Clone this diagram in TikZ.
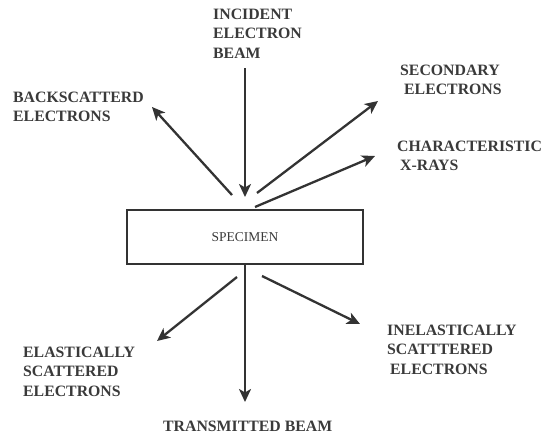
\documentclass[tikz,border=0pt]{standalone}
\usepackage{fontspec}
\setmainfont{Liberation Serif}
\usetikzlibrary{arrows.meta}
\definecolor{ink}{HTML}{333333}
\definecolor{txt}{HTML}{3A3A3A}
\tikzset{
  lbl/.style={anchor=north west, inner sep=0pt, align=left, text=txt,
    font=\fontsize{15.8}{19.3}\selectfont\bfseries},
  ray/.style={draw=ink, line width=2.3pt,
    -{Stealth[length=13pt,width=12pt,inset=3.5pt]}},
  specbox/.style={draw=ink, line width=1.1pt, minimum width=236pt,
    minimum height=54pt, inner sep=0pt, text=txt,
    font=\fontsize{13.5}{16}\selectfont}
}
\begin{document}
\begin{tikzpicture}[x=1pt,y=-1pt]
\useasboundingbox (0,0) rectangle (552,439);
% specimen
\node[specbox] (spec) at (245,237) {SPECIMEN};
% labels
\node[lbl] (inc) at (213,9) {INCIDENT\\ELECTRON\\BEAM};
\node[lbl] (bse) at (13,92) {BACKSCATTERD\\ELECTRONS};
\node[lbl] (sec) at (400,65) {SECONDARY\\\hspace*{4pt}ELECTRONS};
\node[lbl] (xr) at (397,141) {CHARACTERISTIC\\\hspace*{3pt}X-RAYS};
\node[lbl] (ela) at (23,347) {ELASTICALLY\\SCATTERED\\ELECTRONS};
\node[lbl] (tra) at (163,421) {TRANSMITTED BEAM};
\node[lbl] (ine) at (387,325) {INELASTICALLY\\SCATTTERED\\\hspace*{3pt}ELECTRONS};
% arrow end points
\coordinate (incA) at (245,68);
\coordinate (incB) at (245,197);
\coordinate (bseA) at (232,195);
\coordinate (bseB) at (152,107);
\coordinate (secA) at (257,193);
\coordinate (secB) at (378,101);
\coordinate (xrA) at (255,207);
\coordinate (xrB) at (375,156);
\coordinate (elaA) at (237,277);
\coordinate (elaB) at (157,341);
\coordinate (traB) at (245,402);
\coordinate (ineA) at (262,276);
\coordinate (ineB) at (360,324);
% arrows
\draw[ray] (incA) -- (incB);
\draw[ray] (bseA) -- (bseB);
\draw[ray] (secA) -- (secB);
\draw[ray] (xrA) -- (xrB);
\draw[ray] (elaA) -- (elaB);
\draw[ray] (spec.south) -- (traB);
\draw[ray] (ineA) -- (ineB);
\end{tikzpicture}
\end{document}
